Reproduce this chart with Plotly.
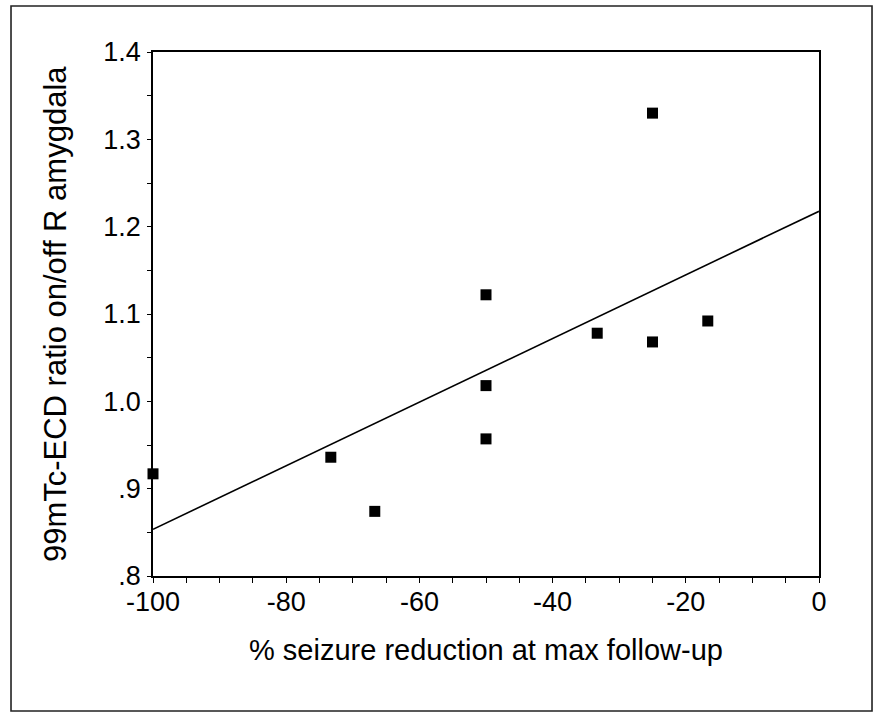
import numpy as np
import plotly.graph_objects as go

# Data
seizure_reduction = [-100, -73.3, -66.7, -50, -50, -50, -33.3, -25, -25, -16.7]
ecd_ratio = [0.917, 0.936, 0.874, 1.122, 1.018, 0.957, 1.078, 1.068, 1.330, 1.092]

x_tickvals = [-100, -80, -60, -40, -20, 0]
x_ticktext = ["-100", "-80", "-60", "-40", "-20", "0"]
y_tickvals = [0.8, 0.9, 1.0, 1.1, 1.2, 1.3, 1.4]
y_ticktext = [".8", ".9", "1.0", "1.1", "1.2", "1.3", "1.4"]

x_title = "% seizure reduction at max follow-up"
y_title = "99mTc-ECD ratio on/off R amygdala"

# Least-squares fit line across the axis range
slope, intercept = np.polyfit(seizure_reduction, ecd_ratio, 1)
fit_x = np.array([-100, 0])
fit_y = slope * fit_x + intercept

FONT = "Liberation Sans, Arial, Helvetica, sans-serif"

fig = go.Figure()
fig.add_trace(go.Scatter(
    x=fit_x, y=fit_y, mode="lines",
    line=dict(color="black", width=1.6),
    showlegend=False, hoverinfo="skip",
))
fig.add_trace(go.Scatter(
    x=seizure_reduction, y=ecd_ratio, mode="markers",
    marker=dict(symbol="square", size=11, color="black"),
    showlegend=False, cliponaxis=False,
))

axis_common = dict(
    showline=True, linecolor="black", linewidth=1.6, mirror=True,
    showgrid=False, zeroline=False,
    ticks="outside", tickcolor="black", tickwidth=1.4,
    tickfont=dict(family=FONT, size=27, color="black"),
)

fig.update_xaxes(
    range=[-100, 0], tickmode="array", tickvals=x_tickvals, ticktext=x_ticktext,
    ticklen=5, ticklabelstandoff=-4,
    minor=dict(tickmode="linear", tick0=0, dtick=5, ticks="outside",
               ticklen=5, tickcolor="black", tickwidth=1.4),
    **axis_common,
)
fig.update_yaxes(
    range=[0.8, 1.4], tickmode="array", tickvals=y_tickvals, ticktext=y_ticktext,
    ticklen=4, ticklabelstandoff=1,
    minor=dict(tickmode="linear", tick0=0.8, dtick=0.05, ticks="outside",
               ticklen=4, tickcolor="black", tickwidth=1.4),
    **axis_common,
)

fig.add_annotation(
    text=y_title, xref="paper", yref="paper", x=-0.147, y=0.5,
    xanchor="center", yanchor="middle", textangle=-90, showarrow=False,
    font=dict(family=FONT, size=31, color="black"),
)
fig.add_annotation(
    text=x_title, xref="paper", yref="paper", x=0.5, y=-0.141,
    xanchor="center", yanchor="middle", showarrow=False,
    font=dict(family=FONT, size=29, color="black"),
)

# Outer frame around the whole figure
fig.add_shape(
    type="rect", xref="paper", yref="paper",
    x0=-0.2132, x1=1.0796, y0=-0.2576, y1=1.0878,
    line=dict(color="#222222", width=1.6), fillcolor="rgba(0,0,0,0)",
    layer="below",
)

fig.update_layout(
    width=874, height=714,
    margin=dict(l=153, r=55, t=52, b=138),
    paper_bgcolor="white", plot_bgcolor="white",
    font=dict(family=FONT, color="black"),
)

fig.write_html(
    "out.html",
    config={"displayModeBar": False},
    post_script="document.body.style.margin='0';",
)
